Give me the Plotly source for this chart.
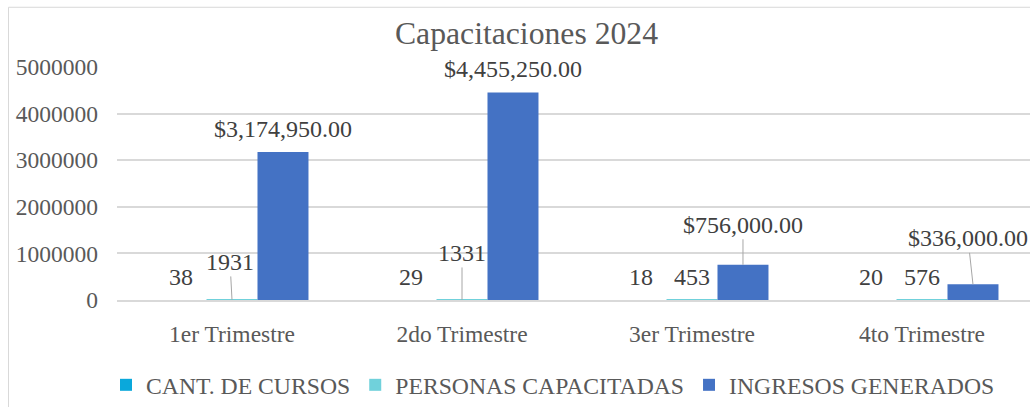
import plotly.graph_objects as go

# Quarterly training figures for 2024
trimestres = ["1er Trimestre", "2do Trimestre", "3er Trimestre", "4to Trimestre"]
cant_cursos = [38, 29, 18, 20]
personas_capacitadas = [1931, 1331, 453, 576]
ingresos_generados = [3174950.00, 4455250.00, 756000.00, 336000.00]

serie_nombres = ["CANT. DE CURSOS", "PERSONAS CAPACITADAS", "INGRESOS GENERADOS"]
serie_colores = ["#0AA8DB", "#70D1DB", "#4472C4"]

FONT = "Liberation Serif, Times New Roman, serif"
TXT_AXIS = "#595959"
TXT_LABEL = "#404040"
GRID = "#D9D9D9"

W, H = 1030, 407
M_L, M_R, M_T, M_B = 117, 0, 67, 104
BARGAP = 0.335
BAR_W = (1 - BARGAP) / 3  # width of one bar in category units

fig = go.Figure()
for nombre, valores, color in zip(serie_nombres,
                                  [cant_cursos, personas_capacitadas, ingresos_generados],
                                  serie_colores):
    fig.add_trace(go.Bar(x=trimestres, y=valores, name=nombre,
                         marker=dict(color=color, line=dict(width=0))))

def fmt_int(v):
    return f"{v:,.0f}".replace(",", "")

def fmt_money(v):
    return f"${v:,.2f}"

# Labels that sit away from their bar get a thin leader line (pixel offsets)
leader = {
    (1, 0): (-2, -38),
    (1, 1): (0, -47),
    (2, 2): (0, -40),
    (2, 3): (-5, -46),
}

annotations = []
for s_idx, valores, fmt in [(0, cant_cursos, fmt_int),
                            (1, personas_capacitadas, fmt_int),
                            (2, ingresos_generados, fmt_money)]:
    offset = (s_idx - 1) * BAR_W
    for q_idx, v in enumerate(valores):
        base = dict(x=q_idx + offset, y=v, xref="x", yref="y", text=fmt(v),
                    font=dict(family=FONT, size=24, color=TXT_LABEL))
        if (s_idx, q_idx) in leader:
            ax, ay = leader[(s_idx, q_idx)]
            base.update(showarrow=True, arrowhead=0, arrowwidth=1,
                        arrowcolor="#A6A6A6", ax=ax, ay=ay, standoff=0)
        else:
            base.update(showarrow=False, xanchor="center", yanchor="middle", yshift=23)
        annotations.append(base)

plot_w = W - M_L - M_R
plot_h = H - M_T - M_B
px_x = lambda p: (p - M_L) / plot_w
px_y = lambda p: (H - M_B - p) / plot_h

# Chart area border (top and left edges visible)
shapes = [dict(type="rect", xref="paper", yref="paper",
               x0=px_x(8.5), x1=px_x(W + 20), y0=px_y(H + 20), y1=px_y(6.5),
               line=dict(color=GRID, width=1), fillcolor="rgba(0,0,0,0)", layer="below")]

fig.update_layout(
    width=W, height=H,
    margin=dict(l=M_L, r=M_R, t=M_T, b=M_B),
    paper_bgcolor="white", plot_bgcolor="white",
    barmode="group", bargap=BARGAP, bargroupgap=0,
    title=dict(text="Capacitaciones 2024", x=526.5 / W, xref="container", xanchor="center",
               y=1 - 33 / H, yref="container", yanchor="middle",
               font=dict(family=FONT, size=31.7, color=TXT_AXIS)),
    xaxis=dict(range=[-0.5, -0.5 + plot_w / 230.0], showgrid=False, ticks="",
               showline=True, linecolor=GRID, linewidth=1.5,
               tickfont=dict(family=FONT, size=23.5, color=TXT_AXIS),
               ticklabelstandoff=12),
    yaxis=dict(range=[0, 5000000], dtick=1000000, tickformat="d",
               showgrid=True, gridcolor=GRID, gridwidth=1.5, zeroline=False,
               showline=False, ticks="",
               tickfont=dict(family=FONT, size=23.5, color=TXT_AXIS),
               ticklabelstandoff=18),
    legend=dict(orientation="h", x=px_x(106), xanchor="left", y=px_y(389), yanchor="middle",
                font=dict(family=FONT, size=23.7, color=TXT_AXIS),
                bgcolor="rgba(0,0,0,0)", itemclick=False),
    annotations=annotations,
    shapes=shapes,
    showlegend=True,
)

fig.write_html("out.html")
